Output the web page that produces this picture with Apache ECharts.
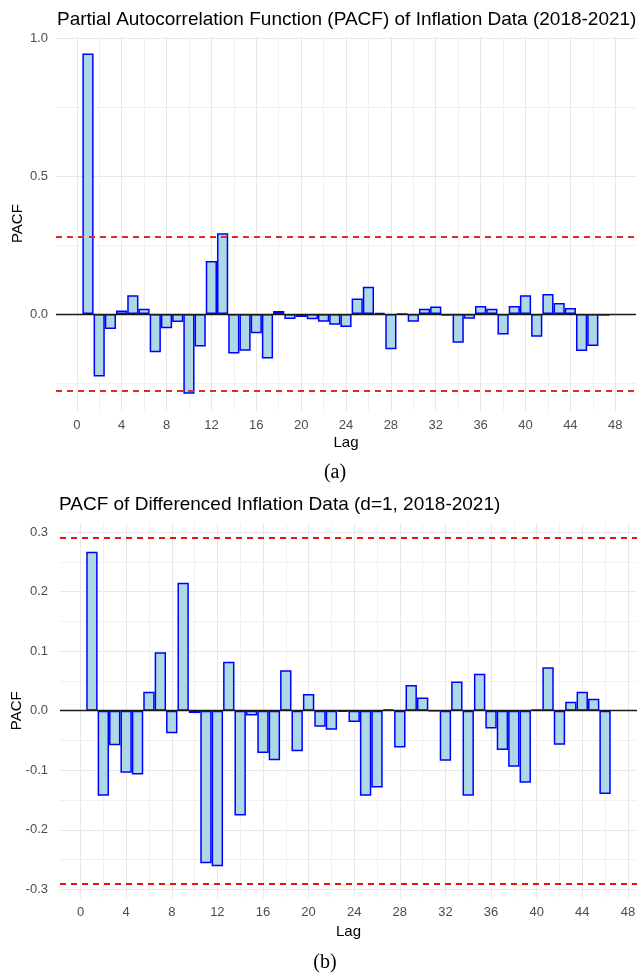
<!DOCTYPE html>
<html>
<head>
<meta charset="utf-8">
<title>PACF of Inflation Data</title>
<script src="https://cdn.jsdelivr.net/npm/echarts@6/dist/echarts.min.js"></script>
<style>
  html, body { margin: 0; padding: 0; background: #fff; }
  #chart { width: 640px; height: 978px; }
</style>
</head>
<body>
<div id="chart"></div>
<script>
  // (a) PACF of the inflation series
  const lagsA = [1, 2, 3, 4, 5, 6, 7, 8, 9, 10, 11, 12, 13, 14, 15, 16, 17, 18, 19, 20, 21, 22, 23, 24,
    25, 26, 27, 28, 29, 30, 31, 32, 33, 34, 35, 36, 37, 38, 39, 40, 41, 42, 43, 44, 45, 46, 47]
  const pacfA = [0.945, -0.227, -0.054, 0.013, 0.068, 0.019, -0.139, -0.052, -0.029, -0.289, -0.118, 0.192,
    0.293, -0.143, -0.133, -0.070, -0.161, 0.011, -0.018, -0.011, -0.019, -0.028, -0.039, -0.047,
    0.056, 0.099, 0.004, -0.128, 0.001, -0.028, 0.019, 0.027, -0.006, -0.104, -0.017, 0.029,
    0.019, -0.074, 0.029, 0.068, -0.082, 0.073, 0.040, 0.022, -0.134, -0.116, -0.006]
  const confA = [0.283, -0.283]

  // (b) PACF of the differenced series (d=1)
  const lagsB = [1, 2, 3, 4, 5, 6, 7, 8, 9, 10, 11, 12, 13, 14, 15, 16, 17, 18, 19, 20, 21, 22, 23, 24,
    25, 26, 27, 28, 29, 30, 31, 32, 33, 34, 35, 36, 37, 38, 39, 40, 41, 42, 43, 44, 45, 46]
  const pacfB = [0.267, -0.143, -0.058, -0.104, -0.107, 0.032, 0.098, -0.038, 0.215, -0.004, -0.256, -0.261,
    0.082, -0.176, -0.008, -0.071, -0.083, 0.068, -0.068, 0.028, -0.027, -0.032, -0.002, -0.019,
    -0.143, -0.129, 0.002, -0.062, 0.043, 0.022, 0.000, -0.084, 0.049, -0.143, 0.062, -0.030,
    -0.066, -0.094, -0.121, 0.002, 0.073, -0.057, 0.015, 0.032, 0.020, -0.140]
  const confB = [0.286, -0.286]

  // tick labels and grid lines
  const xTicks = [0, 4, 8, 12, 16, 20, 24, 28, 32, 36, 40, 44, 48]
  const xMinor = [2, 6, 10, 14, 18, 22, 26, 30, 34, 38, 42, 46]
  const yTicksA = [-0.5, 0, 0.5, 1]
  const yMinorA = [-0.25, 0.25, 0.75]
  const yTicksB = [-0.3, -0.2, -0.1, 0, 0.1, 0.2, 0.3]
  const yMinorB = [-0.25, -0.15, -0.05, 0.05, 0.15, 0.25]

  const font = '"Liberation Sans", Arial, sans-serif'
  const gridColor = '#e8e8e8'
  const minorColor = '#f1f1f1'

  function fmt (v) {
    return (Math.abs(v) < 1e-9 ? 0 : v).toFixed(1)
  }

  function xAxes (gridIndex, min, max, labelMargin, nameGap) {
    return [{
      type: 'value', gridIndex: gridIndex, min: min, max: max, position: 'bottom',
      axisLine: {show: false},
      axisTick: {show: false, customValues: xTicks},
      axisLabel: {customValues: xTicks, color: '#4d4d4d', fontSize: 13, fontFamily: font, margin: labelMargin},
      splitLine: {show: true, lineStyle: {color: gridColor, width: 1}},
      name: 'Lag', nameLocation: 'middle', nameGap: nameGap, nameMoveOverlap: false,
      nameTextStyle: {color: '#000', fontSize: 15, fontFamily: font}
    }, {
      type: 'value', gridIndex: gridIndex, min: min, max: max, position: 'top',
      axisLine: {show: false},
      axisTick: {show: false, customValues: xMinor},
      axisLabel: {show: false},
      splitLine: {show: true, lineStyle: {color: minorColor, width: 1}}
    }]
  }

  function yAxes (gridIndex, min, max, ticks, minor, labelMargin, nameGap) {
    return [{
      type: 'value', gridIndex: gridIndex, min: min, max: max, position: 'left',
      axisLine: {show: false},
      axisTick: {show: false, customValues: ticks},
      axisLabel: {customValues: ticks, formatter: fmt, color: '#4d4d4d', fontSize: 13, fontFamily: font, margin: labelMargin},
      splitLine: {show: true, lineStyle: {color: gridColor, width: 1}},
      name: 'PACF', nameLocation: 'middle', nameRotate: 90, nameGap: nameGap, nameMoveOverlap: false,
      nameTextStyle: {color: '#000', fontSize: 15, fontFamily: font}
    }, {
      type: 'value', gridIndex: gridIndex, min: min, max: max, position: 'right',
      axisLine: {show: false},
      axisTick: {show: false, customValues: minor},
      axisLabel: {show: false},
      splitLine: {show: true, lineStyle: {color: minorColor, width: 1}}
    }]
  }

  function pacfSeries (axisIndex, lags, values, conf, dashColor) {
    return {
      type: 'bar',
      xAxisIndex: axisIndex,
      yAxisIndex: axisIndex,
      barWidth: '100%',
      barCategoryGap: '0%',
      data: lags.map((lag, i) => [lag, values[i]]),
      itemStyle: {color: '#add8e6', borderColor: '#0000ff', borderWidth: 1.5},
      silent: true,
      markLine: {
        silent: true,
        symbol: 'none',
        label: {show: false},
        data: [
          {yAxis: 0, lineStyle: {color: '#1a1a1a', width: 1.4, type: 'solid'}}
        ].concat(conf.map(v => ({yAxis: v, lineStyle: {color: dashColor, width: 1.8, type: [6, 5]}})))
      }
    }
  }

  const chart = echarts.init(document.getElementById('chart'))

  chart.setOption({
    animation: false,
    backgroundColor: '#fff',
    title: [{
      text: 'Partial Autocorrelation Function (PACF) of Inflation Data (2018-2021)',
      left: 57, top: 10, padding: 0,
      textStyle: {color: '#000', fontSize: 19, fontWeight: 'normal', fontFamily: font}
    }, {
      text: 'PACF of Differenced Inflation Data (d=1, 2018-2021)',
      left: 59, top: 495, padding: 0,
      textStyle: {color: '#000', fontSize: 19, fontWeight: 'normal', fontFamily: font}
    }],
    grid: [
      {left: 56, top: 36.5, width: 580, height: 374.2, outerBoundsMode: 'none'},
      {left: 60, top: 523.4, width: 577, height: 374.6, outerBoundsMode: 'none'}
    ],
    xAxis: xAxes(0, -1.85, 49.85, 8, 25).concat(xAxes(1, -1.8, 48.8, 7.5, 26)),
    yAxis: yAxes(0, -0.3507, 1.0067, yTicksA, yMinorA, 8, 31)
      .concat(yAxes(1, -0.3145, 0.3145, yTicksB, yMinorB, 12, 36)),
    series: [
      pacfSeries(0, lagsA, pacfA, confA, '#dd2a2a'),
      pacfSeries(2, lagsB, pacfB, confB, '#f01010')
    ],
    graphic: [
      {type: 'text', x: 335, y: 473, style: {text: '(a)', font: '20px "Liberation Serif", serif', fill: '#000', textAlign: 'center', textVerticalAlign: 'middle'}},
      {type: 'text', x: 325, y: 963, style: {text: '(b)', font: '20px "Liberation Serif", serif', fill: '#000', textAlign: 'center', textVerticalAlign: 'middle'}}
    ]
  })
</script>
</body>
</html>
